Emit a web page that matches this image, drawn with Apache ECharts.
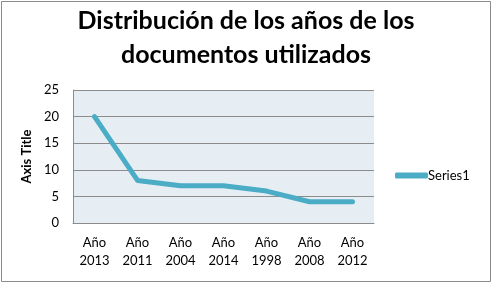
<!DOCTYPE html>
<html>
<head>
<meta charset="utf-8">
<script src="https://cdn.jsdelivr.net/npm/echarts@6/dist/echarts.min.js"></script>
<style>
  html, body { margin: 0; padding: 0; background: #fff; }
  #chart { width: 492px; height: 283px; }
</style>
</head>
<body>
<div id="chart"></div>
<script>
var categories = ['Año\n2013', 'Año\n2011', 'Año\n2004', 'Año\n2014', 'Año\n1998', 'Año\n2008', 'Año\n2012'];
var series1 = [20, 8, 7, 7, 6, 4, 4];
var yTicks = { min: 0, max: 25, interval: 5 };

var font = 'Lato, "Open Sans", sans-serif';

echarts.init(document.querySelector('#chart')).setOption({
    animation: false,
    graphic: [{
        type: 'rect',
        shape: { x: 1.5, y: 1.5, width: 489, height: 280 },
        style: { fill: 'none', stroke: '#8c8c8c', lineWidth: 1 }
    }],
    title: {
        text: 'Distribución de los años de los\ndocumentos utilizados',
        left: 'center',
        top: 4,
        padding: 0,
        textStyle: {
            fontFamily: font,
            fontWeight: 'bold',
            fontSize: 25,
            lineHeight: 34,
            color: '#000'
        }
    },
    legend: {
        data: ['Series1'],
        orient: 'vertical',
        left: 390,
        top: 164,
        itemWidth: 33,
        itemHeight: 6,
        itemGap: 0,
        icon: 'roundRect',
        textStyle: { fontFamily: font, fontSize: 13, color: '#000', padding: [0, 0, 0, -5] }
    },
    grid: { left: 73, right: 118, top: 90, bottom: 60, show: true, backgroundColor: '#e6eef4', borderWidth: 0 },
    xAxis: {
        type: 'category',
        data: categories,
        boundaryGap: true,
        axisLine: { lineStyle: { color: '#8c8c8c' } },
        axisTick: { show: false },
        axisLabel: { fontFamily: font, fontSize: 13, color: '#000', lineHeight: 18, margin: 11 }
    },
    yAxis: {
        type: 'value',
        min: yTicks.min,
        max: yTicks.max,
        interval: yTicks.interval,
        name: 'Axis Title',
        nameLocation: 'middle',
        nameGap: 35,
        nameTextStyle: { fontFamily: font, fontWeight: 'bold', fontSize: 13, color: '#000' },
        axisLine: { show: true, lineStyle: { color: '#8c8c8c' } },
        axisTick: { show: false },
        splitLine: { lineStyle: { color: '#8c8c8c' } },
        axisLabel: { fontFamily: font, fontSize: 13, color: '#000', margin: 14 }
    },
    series: [{
        name: 'Series1',
        type: 'line',
        data: series1,
        symbol: 'none',
        color: '#4bacc6',
        lineStyle: { width: 5, color: '#4bacc6', cap: 'round', join: 'round' }
    }]
});
</script>
</body>
</html>
